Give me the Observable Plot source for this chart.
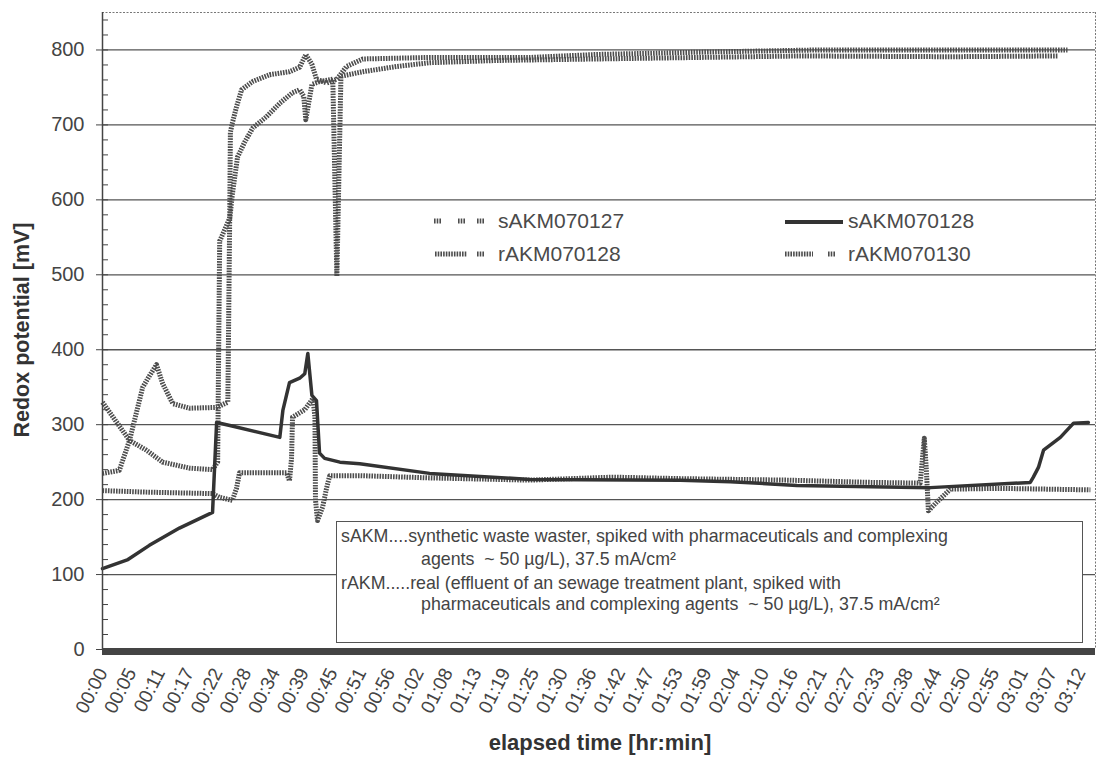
<!DOCTYPE html>
<html><head><meta charset="utf-8">
<script src="https://cdn.jsdelivr.net/npm/d3@7"></script>
<script src="https://cdn.jsdelivr.net/npm/@observablehq/plot@0.6"></script>
<style>
body{margin:0;background:#fff;font-family:"Liberation Sans",Arial,sans-serif;}
#wrap{position:relative;width:1104px;height:758px;overflow:hidden;background:#fff}
.t{position:absolute;color:#444;white-space:nowrap}
#note{position:absolute;left:336px;top:521px;width:745px;height:120px;border:1.5px solid #555;background:#fff}
#note div{position:absolute;font-size:17.8px;line-height:22px;color:#444;white-space:nowrap}
.leg{font-size:21px;line-height:24px;color:#4a4a4a}
</style></head><body><div id="wrap"></div>
<script>
// x tick labels (category labels of the original, hr:min)
const xTickLabels = ["00:00","00:05","00:11","00:17","00:22","00:28","00:34","00:39","00:45","00:51","00:56","01:02","01:08","01:13","01:19","01:25","01:30","01:36","01:42","01:47","01:53","01:59","02:04","02:10","02:16","02:21","02:27","02:33","02:38","02:44","02:50","02:55","03:01","03:07","03:12"];
const yMajor = [0,100,200,300,400,500,600,700,800];
const yMinor = d3.range(0, 851, 20);

// series: elapsed minutes / redox potential mV
const s127_t = [0,3.3,5.3,7.9,9.2,10.6,11.8,13.8,17.1,22.4,24.6,24.8,25,25.1,25.5,26.3,27.3,29.5,32.8,36.7,38.7,39.9,41.1,42,44,46,47.9,51.1,64.2,83.9,97,116.7,140.3,166.4,189.4];
const s127_v = [235,239,279,350,365,380,355,328,322,323,330,465,600,690,703,724,747,758,767,771,777,794,781,761,756,761,778,788,790,790,794,797,800,800,800];

const s128_t = [0,5,9.2,15.1,21.6,22.4,25,34.8,35.4,36.7,38.7,39.7,40.3,41.1,42,42.6,43.6,46.6,50.5,64.2,83.9,113.4,123.2,136.3,162.5,182.1,182.7,183.7,184.7,188,190.6,193.5];
const s128_v = [108,120,139,162,183,303,299,283,319,356,362,368,395,339,332,262,255,250,248,235,227,226,224,219,216,223,230,243,266,283,302,303];

const r128_t = [0,5.3,8.6,11.8,17.1,21.6,22.6,22.8,23,25,25.5,26.5,27.9,29.5,32.2,34.8,37.3,38.7,39.5,39.9,41.1,42.6,45.2,46,46.8,51.1,57.8,64.2,77.4,97,116.7,137,166.4,187.6];
const r128_v = [330,279,266,250,242,240,250,400,545,576,608,657,677,696,711,729,743,747,738,707,754,758,761,498,765,771,778,783,786,788,790,792,791,792];

const r130_t = [0,8.6,21.6,23,25.5,26.3,26.9,36.1,36.7,37.1,37.3,39.7,41.3,41.7,41.8,42.2,43.2,44,44.6,50.5,64.2,83.9,100.2,113.4,134.4,150.7,160.5,161.3,161.7,162.1,163.5,166.4,176.2,193.9];
const r130_v = [212,210,208,203,199,215,236,236,225,255,310,320,335,310,200,172,190,216,232,232,229,226,230,228,226,223,222,282,240,185,195,214,215,213];

const zip = (t, v) => t.map((d, i) => ({t: d, v: v[i]}));
const lastMin = 192; // minutes of last category label "03:12"
const xTickVals = xTickLabels.map((_, i) => i * lastMin / (xTickLabels.length - 1));
const xMax = 194.9, yTop = 850;

const dotted = {x: "t", y: "v", stroke: "#4d4d4d", strokeWidth: 5, strokeDasharray: "1.6,1.1", strokeLinecap: "butt", strokeLinejoin: "round"};

const chart = Plot.plot({
  width: 1104, height: 758,
  marginLeft: 102, marginRight: 9, marginTop: 12, marginBottom: 109,
  x: {domain: [0, xMax], label: null},
  y: {domain: [0, yTop], label: null},
  style: {fontFamily: "Liberation Sans, Arial, sans-serif", color: "#444", background: "white"},
  marks: [
    Plot.ruleY(yMajor.filter(d => d > 0), {stroke: "#555", strokeWidth: 1.3}),
    Plot.ruleY([yTop], {stroke: "#777", strokeDasharray: "2,1.5"}),
    Plot.ruleX([xMax], {stroke: "#777", strokeDasharray: "2,1.5"}),
    Plot.line(zip(r130_t, r130_v), dotted),
    Plot.line(zip(r128_t, r128_v), dotted),
    Plot.line(zip(s127_t, s127_v), dotted),
    Plot.line(zip(s128_t, s128_v), {x: "t", y: "v", stroke: "#333", strokeWidth: 3.5}),
    Plot.ruleY([0], {stroke: "#444", strokeWidth: 7, dy: 2}),
    Plot.ruleX([0], {stroke: "#444", strokeWidth: 1.5}),
    Plot.axisY({ticks: yMajor, tickSize: 6, tickPadding: 12, fontSize: 20}),
    Plot.axisY({ticks: yMinor, tickSize: 6, dx: 6, tickFormat: () => ""}),
    Plot.axisX({ticks: xTickVals, tickFormat: (d, i) => xTickLabels[i], tickRotate: -63, tickSize: 0, tickPadding: 20, fontSize: 19})
  ]
});
const wrap = document.getElementById("wrap");
wrap.appendChild(chart);

// axis titles, legend, note
wrap.insertAdjacentHTML("beforeend", `
<div class="t" style="left:22px;top:330px;transform:translate(-50%,-50%) rotate(-90deg);font-weight:bold;font-size:21.5px;color:#333">Redox potential [mV]</div>
<div class="t" style="left:600px;top:743px;transform:translate(-50%,-50%);font-weight:bold;font-size:22px;color:#333">elapsed time [hr:min]</div>
<div class="t leg" style="left:498px;top:209px">sAKM070127</div>
<div class="t leg" style="left:498px;top:242px">rAKM070128</div>
<div class="t leg" style="left:848px;top:209px">sAKM070128</div>
<div class="t leg" style="left:848px;top:242px">rAKM070130</div>
<svg style="position:absolute;left:0;top:0" width="1104" height="758">
 <g stroke="#4d4d4d" stroke-width="5" stroke-dasharray="1.6,1.1">
  <line x1="434" x2="441" y1="221" y2="221"/>
  <line x1="458" x2="465" y1="221" y2="221"/>
  <line x1="477" x2="484" y1="221" y2="221"/>
  <line x1="435" x2="467" y1="254" y2="254"/>
  <line x1="477" x2="484" y1="254" y2="254"/>
  <line x1="785" x2="813" y1="254" y2="254"/>
  <line x1="828" x2="835" y1="254" y2="254"/>
 </g>
 <line x1="785" x2="843" y1="222" y2="222" stroke="#333" stroke-width="4"/>
</svg>
<div id="note">
 <div style="left:4px;top:3px">sAKM....synthetic waste waster, spiked with pharmaceuticals and complexing</div>
 <div style="left:84px;top:26px">agents&nbsp; ~ 50 µg/L), 37.5 mA/cm²</div>
 <div style="left:4px;top:50px">rAKM.....real (effluent of an sewage treatment plant, spiked with</div>
 <div style="left:84px;top:71px">pharmaceuticals and complexing agents&nbsp; ~ 50 µg/L), 37.5 mA/cm²</div>
</div>`);
</script>
</body></html>
